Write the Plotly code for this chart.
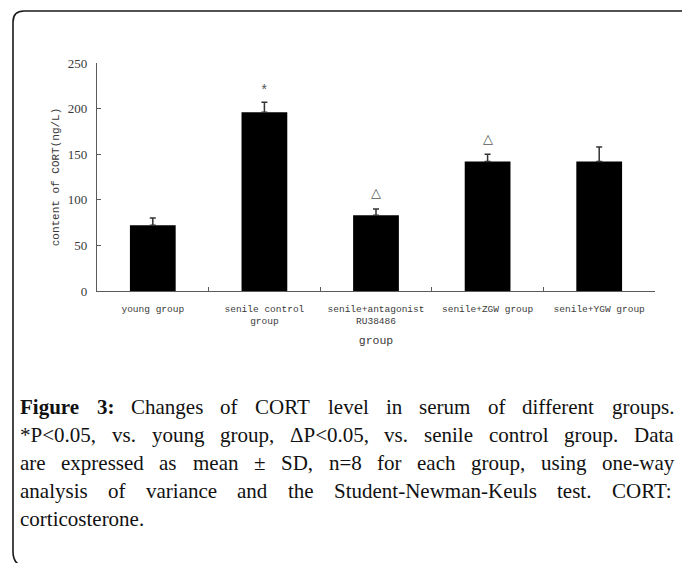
import plotly.graph_objects as go

# ---------------- data ----------------
groups = ["young group", "senile control<br>group", "senile+antagonist<br>RU38486",
          "senile+ZGW group", "senile+YGW group"]
means = [72, 196, 83, 142, 142]
sds = [8, 11, 7, 8, 16]
marks = ["", "*", "△", "△", ""]
y_ticks = [0, 50, 100, 150, 200, 250]

caption_lines = [
    "<b>Figure</b> <b>3:</b> Changes of CORT level in serum of different groups.",
    "*P<0.05, vs. young group, ΔP<0.05, vs. senile control group. Data",
    "are expressed as mean ± SD, n=8 for each group, using one-way",
    "analysis of variance and the Student-Newman-Keuls test. CORT:",
    "corticosterone.",
]

# ---------------- layout geometry (page pixels) ----------------
W, H = 682, 563
L, R, T, B = 97, 655, 63, 291   # plot area in page pixels


def px(x):
    return (x - L) / (R - L)


def py(y):
    return (B - y) / (B - T)


CHART_FONT = "Liberation Mono, monospace"
TEXT_GRAY = "#3a3a3a"
AXIS_GRAY = "#5a5a5a"

fig = go.Figure()
fig.add_trace(go.Bar(
    x=groups, y=means,
    width=0.41,
    marker=dict(color="black", line=dict(width=0)),
    error_y=dict(type="data", array=sds, visible=True, color="#333333",
                 thickness=1.5, width=3, symmetric=False, arrayminus=[0] * len(sds)),
    showlegend=False,
    hoverinfo="skip",
))

annotations = []
for g, m, s, mk in zip(groups, means, sds, marks):
    if not mk:
        continue
    annotations.append(dict(
        x=g, y=m + s, xref="x", yref="y", text=mk, showarrow=False,
        yanchor="middle", yshift=(11 if mk == "*" else 16),
        font=dict(family="DejaVu Sans, sans-serif" if mk == "△" else CHART_FONT,
                  size=13 if mk == "△" else 14, color="#555555"),
    ))

# ---------------- caption with justified lines ----------------
TIMES = {
    ' ': 250, '!': 333, '"': 408, '#': 500, '$': 500, '%': 833, '&': 778, "'": 180,
    '(': 333, ')': 333, '*': 500, '+': 564, ',': 250, '-': 333, '.': 250, '/': 278,
    '0': 500, '1': 500, '2': 500, '3': 500, '4': 500, '5': 500, '6': 500, '7': 500,
    '8': 500, '9': 500, ':': 278, ';': 278, '<': 564, '=': 564, '>': 564, '?': 444,
    'A': 722, 'B': 667, 'C': 667, 'D': 722, 'E': 611, 'F': 556, 'G': 722, 'H': 722,
    'I': 333, 'J': 389, 'K': 722, 'L': 611, 'M': 889, 'N': 722, 'O': 722, 'P': 556,
    'Q': 722, 'R': 667, 'S': 556, 'T': 611, 'U': 722, 'V': 722, 'W': 944, 'X': 722,
    'Y': 722, 'Z': 611,
    'a': 444, 'b': 500, 'c': 444, 'd': 500, 'e': 444, 'f': 333, 'g': 500, 'h': 500,
    'i': 278, 'j': 278, 'k': 500, 'l': 278, 'm': 778, 'n': 500, 'o': 500, 'p': 500,
    'q': 500, 'r': 333, 's': 389, 't': 278, 'u': 500, 'v': 500, 'w': 722, 'x': 500,
    'y': 500, 'z': 444, '±': 564, 'Δ': 612,
}
TIMES_BOLD = {'F': 611, 'i': 278, 'g': 500, 'u': 556, 'r': 444, 'e': 444,
              '3': 500, ':': 333}

CAP_SIZE = 21
CAP_LEFT, CAP_RIGHT = 19, 673
CAP_Y0, CAP_DY = 407, 28


def word_width(word):
    bold = word.startswith("<b>")
    w = word.replace("<b>", "").replace("</b>", "")
    table = TIMES_BOLD if bold else TIMES
    return sum(table.get(c, TIMES.get(c, 500)) for c in w) * CAP_SIZE / 1000.0


for i, line in enumerate(caption_lines):
    words = line.split(" ")
    ypix = CAP_Y0 + i * CAP_DY
    widths = [word_width(w) for w in words]
    natural = sum(widths)
    justify = i < len(caption_lines) - 1 and len(words) > 1
    if justify:
        gap = (CAP_RIGHT - CAP_LEFT - natural) / (len(words) - 1)
    else:
        gap = TIMES[' '] * CAP_SIZE / 1000.0
    x = CAP_LEFT
    for w, ww in zip(words, widths):
        annotations.append(dict(
            x=px(x), y=py(ypix), xref="paper", yref="paper", text=w,
            showarrow=False, xanchor="left", yanchor="middle", borderpad=0,
            font=dict(family="Liberation Serif, serif", size=CAP_SIZE, color="#111111"),
        ))
        x += ww + gap

# ---------------- frame ----------------
frame_path = (f"M {px(700)},{py(11)} L {px(24)},{py(11)} "
              f"Q {px(13)},{py(11)} {px(13)},{py(22)} "
              f"L {px(13)},{py(552)} Q {px(13)},{py(563)} {px(22)},{py(566)}")
shapes = [dict(type="path", path=frame_path, xref="paper", yref="paper",
               line=dict(color="#1a1a1a", width=1.6))]

fig.update_layout(
    width=W, height=H,
    margin=dict(l=L, r=W - R, t=T, b=H - B, pad=0),
    paper_bgcolor="white", plot_bgcolor="white",
    hovermode=False,
    xaxis=dict(
        type="category", tickson="boundaries", ticks="inside", ticklen=4,
        tickcolor=AXIS_GRAY, showline=True, linecolor=AXIS_GRAY, linewidth=1.2,
        showgrid=False, zeroline=False, ticklabelstandoff=8,
        tickfont=dict(family=CHART_FONT, size=9.5, color=TEXT_GRAY),
        title=dict(text="group", font=dict(family=CHART_FONT, size=11.5, color=TEXT_GRAY),
                   standoff=10),
    ),
    yaxis=dict(
        range=[0, 250], tickvals=y_ticks, ticks="inside", ticklen=4,
        tickcolor=AXIS_GRAY, showline=True, linecolor=AXIS_GRAY, linewidth=1.2,
        showgrid=False, zeroline=False, ticklabelstandoff=6,
        tickfont=dict(family="Liberation Serif, serif", size=13, color=TEXT_GRAY),
        title=dict(text="content of CORT(ng/L)",
                   font=dict(family=CHART_FONT, size=11, color=TEXT_GRAY), standoff=5),
    ),
    annotations=annotations,
    shapes=shapes,
)

fig.write_html(
    "out.html",
    config={"displayModeBar": False, "staticPlot": True},
    post_script="document.body.style.margin='0';document.body.style.overflow='hidden';",
)
